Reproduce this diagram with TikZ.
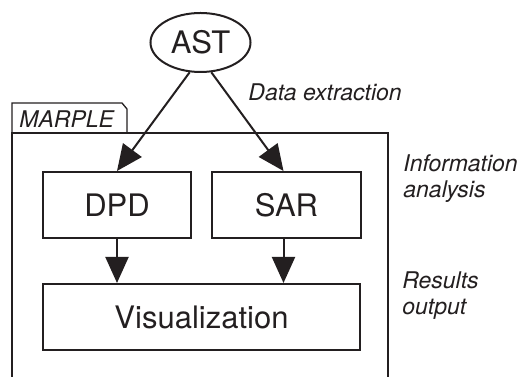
\documentclass[tikz,border=0pt]{standalone}
\usepackage{fontspec}
\setmainfont{TeX Gyre Heros}
\usetikzlibrary{arrows.meta,shapes.geometric,calc}
\definecolor{ink}{HTML}{231F20}
\tikzset {>={Triangle[length=13pt,width=11.5pt]}}
\tikzset{
  module/.style={draw=ink,line width=1pt,inner sep=0pt,text=ink,font=\fontsize{15.5}{18}\selectfont},
  phase/.style={anchor=base west,inner sep=0pt,align=left,text=ink,font=\fontsize{11.5}{13}\selectfont\itshape}
}

\begin{document}
\begin{tikzpicture}[x=0.5pt,y=-0.5pt]
\useasboundingbox (0,0) rectangle (521,378);

% MARPLE frame and tab
\draw [ink,line width=0.65pt] (12,133) -- (12,103) -- (122,103) -- (127,109) -- (127,133);
\draw [ink,line width=1.15pt] (12,377) -- (12,133) -- (388,133) -- (388,377);
\node[phase] (marple) at (19,128) {MARPLE};

% Input
\node[module,ellipse,minimum width=50pt,minimum height=29.5pt] (ast) at (200.5,42.5) {AST};

% Analysis modules
\node[module,minimum width=74pt,minimum height=33pt] (dpd) at (117,205) {DPD};
\node[module,minimum width=74.5pt,minimum height=33pt] (sar) at (286.5,205) {SAR};
\node[module,minimum width=158.5pt,minimum height=33pt] (vis) at (201.5,317) {Visualization};

% Connectors
\draw [->,ink,line width=1pt] (ast.-110) -- (dpd.north);
\draw [->,ink,line width=1pt] (ast.-70) -- ($(sar.north)+(-3,0)$);
\draw [->,ink,line width=1pt] (dpd.south) -- (dpd.south |- vis.north);
\draw [->,ink,line width=1pt] ($(sar.south)+(-3,0)$) -- ($(sar.south |- vis.north)+(-3,0)$);

% Phase labels
\node[phase] (extract) at (248,101) {Data extraction};
\node[phase] (analyse) at (403,198) {Information\\analysis};
\node[phase] (output) at (402,315) {Results\\output};
\end{tikzpicture}
\end{document}
